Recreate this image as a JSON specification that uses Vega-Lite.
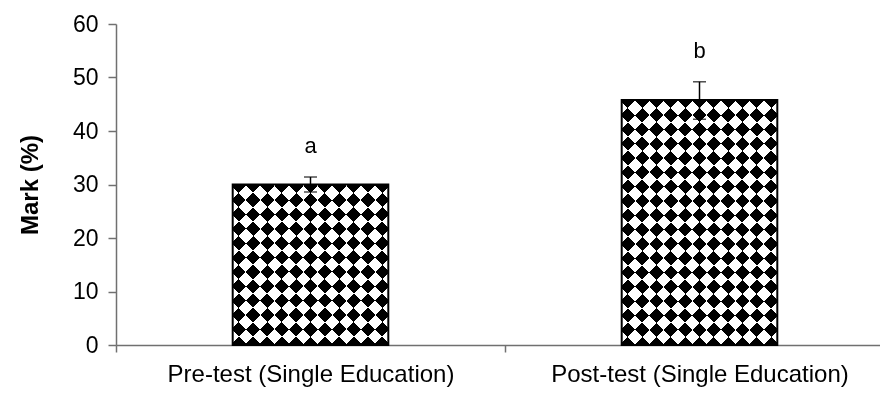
{
  "$schema": "https://vega.github.io/schema/vega-lite/v6.json",
  "autosize": {"type": "none"},
  "padding": {"left": 116, "top": 24, "right": 0, "bottom": 50},
  "width": 764,
  "height": 321,
  "background": "white",
  "data": {"values": [
    {"group": "Pre-test (Single Education)", "value": 30.0, "lo": 28.6, "hi": 31.4, "letter": "a"},
    {"group": "Post-test (Single Education)", "value": 45.8, "lo": 42.2, "hi": 49.2, "letter": "b"}
  ]},
  "encoding": {
    "x": {
      "field": "group", "type": "nominal", "sort": null, "title": null,
      "scale": {"paddingInner": 0.6, "paddingOuter": 0.3, "range": [0, 778]},
      "axis": {"labelAngle": 0, "tickOffset": -194.5, "labelOffset": 194.5, "tickSize": 7, "labelPadding": 10, "labelFontSize": 24, "labelLimit": 500}
    }
  },
  "layer": [
    {
      "mark": {"type": "bar"},
      "encoding": {
        "y": {"field": "value", "type": "quantitative", "title": "Mark (%)",
              "scale": {"domain": [0, 60], "nice": false},
              "axis": {"values": [0, 10, 20, 30, 40, 50, 60]}},
        "fill": {
          "condition": {"test": "datum.letter === 'a'", "value": {"gradient": "linear", "x1": 0, "y1": 0, "x2": 0.9843, "y2": 1.0153, "stops": [
            {"offset": 0, "color": "#000"}, {"offset": 0.04545, "color": "#000"},
            {"offset": 0.04545, "color": "#fff"}, {"offset": 0.09091, "color": "#fff"},
            {"offset": 0.09091, "color": "#000"}, {"offset": 0.13636, "color": "#000"},
            {"offset": 0.13636, "color": "#fff"}, {"offset": 0.18182, "color": "#fff"},
            {"offset": 0.18182, "color": "#000"}, {"offset": 0.22727, "color": "#000"},
            {"offset": 0.22727, "color": "#fff"}, {"offset": 0.27273, "color": "#fff"},
            {"offset": 0.27273, "color": "#000"}, {"offset": 0.31818, "color": "#000"},
            {"offset": 0.31818, "color": "#fff"}, {"offset": 0.36364, "color": "#fff"},
            {"offset": 0.36364, "color": "#000"}, {"offset": 0.40909, "color": "#000"},
            {"offset": 0.40909, "color": "#fff"}, {"offset": 0.45455, "color": "#fff"},
            {"offset": 0.45455, "color": "#000"}, {"offset": 0.5, "color": "#000"},
            {"offset": 0.5, "color": "#fff"}, {"offset": 0.54545, "color": "#fff"},
            {"offset": 0.54545, "color": "#000"}, {"offset": 0.59091, "color": "#000"},
            {"offset": 0.59091, "color": "#fff"}, {"offset": 0.63636, "color": "#fff"},
            {"offset": 0.63636, "color": "#000"}, {"offset": 0.68182, "color": "#000"},
            {"offset": 0.68182, "color": "#fff"}, {"offset": 0.72727, "color": "#fff"},
            {"offset": 0.72727, "color": "#000"}, {"offset": 0.77273, "color": "#000"},
            {"offset": 0.77273, "color": "#fff"}, {"offset": 0.81818, "color": "#fff"},
            {"offset": 0.81818, "color": "#000"}, {"offset": 0.86364, "color": "#000"},
            {"offset": 0.86364, "color": "#fff"}, {"offset": 0.90909, "color": "#fff"},
            {"offset": 0.90909, "color": "#000"}, {"offset": 0.95455, "color": "#000"},
            {"offset": 0.95455, "color": "#fff"}, {"offset": 1, "color": "#fff"}
          ]}},
          "value": {"gradient": "linear", "x1": 0, "y1": 0, "x2": 0.7399, "y2": 1.1652, "stops": [
            {"offset": 0, "color": "#000"}, {"offset": 0.03571, "color": "#000"},
            {"offset": 0.03571, "color": "#fff"}, {"offset": 0.07143, "color": "#fff"},
            {"offset": 0.07143, "color": "#000"}, {"offset": 0.10714, "color": "#000"},
            {"offset": 0.10714, "color": "#fff"}, {"offset": 0.14286, "color": "#fff"},
            {"offset": 0.14286, "color": "#000"}, {"offset": 0.17857, "color": "#000"},
            {"offset": 0.17857, "color": "#fff"}, {"offset": 0.21429, "color": "#fff"},
            {"offset": 0.21429, "color": "#000"}, {"offset": 0.25, "color": "#000"},
            {"offset": 0.25, "color": "#fff"}, {"offset": 0.28571, "color": "#fff"},
            {"offset": 0.28571, "color": "#000"}, {"offset": 0.32143, "color": "#000"},
            {"offset": 0.32143, "color": "#fff"}, {"offset": 0.35714, "color": "#fff"},
            {"offset": 0.35714, "color": "#000"}, {"offset": 0.39286, "color": "#000"},
            {"offset": 0.39286, "color": "#fff"}, {"offset": 0.42857, "color": "#fff"},
            {"offset": 0.42857, "color": "#000"}, {"offset": 0.46429, "color": "#000"},
            {"offset": 0.46429, "color": "#fff"}, {"offset": 0.5, "color": "#fff"},
            {"offset": 0.5, "color": "#000"}, {"offset": 0.53571, "color": "#000"},
            {"offset": 0.53571, "color": "#fff"}, {"offset": 0.57143, "color": "#fff"},
            {"offset": 0.57143, "color": "#000"}, {"offset": 0.60714, "color": "#000"},
            {"offset": 0.60714, "color": "#fff"}, {"offset": 0.64286, "color": "#fff"},
            {"offset": 0.64286, "color": "#000"}, {"offset": 0.67857, "color": "#000"},
            {"offset": 0.67857, "color": "#fff"}, {"offset": 0.71429, "color": "#fff"},
            {"offset": 0.71429, "color": "#000"}, {"offset": 0.75, "color": "#000"},
            {"offset": 0.75, "color": "#fff"}, {"offset": 0.78571, "color": "#fff"},
            {"offset": 0.78571, "color": "#000"}, {"offset": 0.82143, "color": "#000"},
            {"offset": 0.82143, "color": "#fff"}, {"offset": 0.85714, "color": "#fff"},
            {"offset": 0.85714, "color": "#000"}, {"offset": 0.89286, "color": "#000"},
            {"offset": 0.89286, "color": "#fff"}, {"offset": 0.92857, "color": "#fff"},
            {"offset": 0.92857, "color": "#000"}, {"offset": 0.96429, "color": "#000"},
            {"offset": 0.96429, "color": "#fff"}, {"offset": 1, "color": "#fff"}
          ]}
        }
      }
    },
    {
      "mark": {"type": "bar", "blend": "difference"},
      "encoding": {
        "y": {"field": "value", "type": "quantitative", "title": "Mark (%)", "scale": {"domain": [0, 60], "nice": false}},
        "fill": {
          "condition": {"test": "datum.letter === 'a'", "value": {"gradient": "linear", "x1": 1, "y1": 0, "x2": 0.0157, "y2": 1.0153, "stops": [
            {"offset": 0, "color": "#000"}, {"offset": 0.04545, "color": "#000"},
            {"offset": 0.04545, "color": "#fff"}, {"offset": 0.09091, "color": "#fff"},
            {"offset": 0.09091, "color": "#000"}, {"offset": 0.13636, "color": "#000"},
            {"offset": 0.13636, "color": "#fff"}, {"offset": 0.18182, "color": "#fff"},
            {"offset": 0.18182, "color": "#000"}, {"offset": 0.22727, "color": "#000"},
            {"offset": 0.22727, "color": "#fff"}, {"offset": 0.27273, "color": "#fff"},
            {"offset": 0.27273, "color": "#000"}, {"offset": 0.31818, "color": "#000"},
            {"offset": 0.31818, "color": "#fff"}, {"offset": 0.36364, "color": "#fff"},
            {"offset": 0.36364, "color": "#000"}, {"offset": 0.40909, "color": "#000"},
            {"offset": 0.40909, "color": "#fff"}, {"offset": 0.45455, "color": "#fff"},
            {"offset": 0.45455, "color": "#000"}, {"offset": 0.5, "color": "#000"},
            {"offset": 0.5, "color": "#fff"}, {"offset": 0.54545, "color": "#fff"},
            {"offset": 0.54545, "color": "#000"}, {"offset": 0.59091, "color": "#000"},
            {"offset": 0.59091, "color": "#fff"}, {"offset": 0.63636, "color": "#fff"},
            {"offset": 0.63636, "color": "#000"}, {"offset": 0.68182, "color": "#000"},
            {"offset": 0.68182, "color": "#fff"}, {"offset": 0.72727, "color": "#fff"},
            {"offset": 0.72727, "color": "#000"}, {"offset": 0.77273, "color": "#000"},
            {"offset": 0.77273, "color": "#fff"}, {"offset": 0.81818, "color": "#fff"},
            {"offset": 0.81818, "color": "#000"}, {"offset": 0.86364, "color": "#000"},
            {"offset": 0.86364, "color": "#fff"}, {"offset": 0.90909, "color": "#fff"},
            {"offset": 0.90909, "color": "#000"}, {"offset": 0.95455, "color": "#000"},
            {"offset": 0.95455, "color": "#fff"}, {"offset": 1, "color": "#fff"}
          ]}},
          "value": {"gradient": "linear", "x1": 1, "y1": 0, "x2": 0.2601, "y2": 1.1652, "stops": [
            {"offset": 0, "color": "#000"}, {"offset": 0.03571, "color": "#000"},
            {"offset": 0.03571, "color": "#fff"}, {"offset": 0.07143, "color": "#fff"},
            {"offset": 0.07143, "color": "#000"}, {"offset": 0.10714, "color": "#000"},
            {"offset": 0.10714, "color": "#fff"}, {"offset": 0.14286, "color": "#fff"},
            {"offset": 0.14286, "color": "#000"}, {"offset": 0.17857, "color": "#000"},
            {"offset": 0.17857, "color": "#fff"}, {"offset": 0.21429, "color": "#fff"},
            {"offset": 0.21429, "color": "#000"}, {"offset": 0.25, "color": "#000"},
            {"offset": 0.25, "color": "#fff"}, {"offset": 0.28571, "color": "#fff"},
            {"offset": 0.28571, "color": "#000"}, {"offset": 0.32143, "color": "#000"},
            {"offset": 0.32143, "color": "#fff"}, {"offset": 0.35714, "color": "#fff"},
            {"offset": 0.35714, "color": "#000"}, {"offset": 0.39286, "color": "#000"},
            {"offset": 0.39286, "color": "#fff"}, {"offset": 0.42857, "color": "#fff"},
            {"offset": 0.42857, "color": "#000"}, {"offset": 0.46429, "color": "#000"},
            {"offset": 0.46429, "color": "#fff"}, {"offset": 0.5, "color": "#fff"},
            {"offset": 0.5, "color": "#000"}, {"offset": 0.53571, "color": "#000"},
            {"offset": 0.53571, "color": "#fff"}, {"offset": 0.57143, "color": "#fff"},
            {"offset": 0.57143, "color": "#000"}, {"offset": 0.60714, "color": "#000"},
            {"offset": 0.60714, "color": "#fff"}, {"offset": 0.64286, "color": "#fff"},
            {"offset": 0.64286, "color": "#000"}, {"offset": 0.67857, "color": "#000"},
            {"offset": 0.67857, "color": "#fff"}, {"offset": 0.71429, "color": "#fff"},
            {"offset": 0.71429, "color": "#000"}, {"offset": 0.75, "color": "#000"},
            {"offset": 0.75, "color": "#fff"}, {"offset": 0.78571, "color": "#fff"},
            {"offset": 0.78571, "color": "#000"}, {"offset": 0.82143, "color": "#000"},
            {"offset": 0.82143, "color": "#fff"}, {"offset": 0.85714, "color": "#fff"},
            {"offset": 0.85714, "color": "#000"}, {"offset": 0.89286, "color": "#000"},
            {"offset": 0.89286, "color": "#fff"}, {"offset": 0.92857, "color": "#fff"},
            {"offset": 0.92857, "color": "#000"}, {"offset": 0.96429, "color": "#000"},
            {"offset": 0.96429, "color": "#fff"}, {"offset": 1, "color": "#fff"}
          ]}
        }
      }
    },
    {
      "mark": {"type": "bar", "fillOpacity": 0, "stroke": "black", "strokeWidth": 2},
      "encoding": {
        "y": {"field": "value", "type": "quantitative", "title": "Mark (%)", "scale": {"domain": [0, 60], "nice": false}}
      }
    },
    {
      "mark": {"type": "rule", "color": "black", "strokeWidth": 1.5},
      "encoding": {
        "y": {"field": "lo", "type": "quantitative", "title": "Mark (%)", "scale": {"domain": [0, 60], "nice": false}},
        "y2": {"field": "hi"}
      }
    },
    {
      "mark": {"type": "tick", "color": "black", "thickness": 1.5, "size": 13},
      "encoding": {
        "y": {"field": "hi", "type": "quantitative", "title": "Mark (%)", "scale": {"domain": [0, 60], "nice": false}}
      }
    },
    {
      "mark": {"type": "tick", "color": "black", "thickness": 1.5, "size": 13},
      "encoding": {
        "y": {"field": "lo", "type": "quantitative", "title": "Mark (%)", "scale": {"domain": [0, 60], "nice": false}}
      }
    },
    {
      "mark": {"type": "text", "font": "Liberation Sans", "fontSize": 22, "baseline": "middle", "align": "center", "dy": -31, "color": "black"},
      "encoding": {
        "y": {"field": "hi", "type": "quantitative", "title": "Mark (%)", "scale": {"domain": [0, 60], "nice": false}},
        "text": {"field": "letter"}
      }
    }
  ],
  "config": {
    "view": {"stroke": null},
    "font": "Liberation Sans",
    "axis": {
      "grid": false,
      "domainColor": "#707070",
      "domainWidth": 1.5,
      "tickColor": "#707070",
      "tickWidth": 1.5,
      "labelColor": "black",
      "titleColor": "black",
      "labelFont": "Liberation Sans",
      "titleFont": "Liberation Sans"
    },
    "axisY": {
      "tickSize": 8,
      "labelPadding": 10,
      "labelFontSize": 23,
      "titleFontSize": 24,
      "titleFontWeight": "bold",
      "titlePadding": 30
    }
  }
}
